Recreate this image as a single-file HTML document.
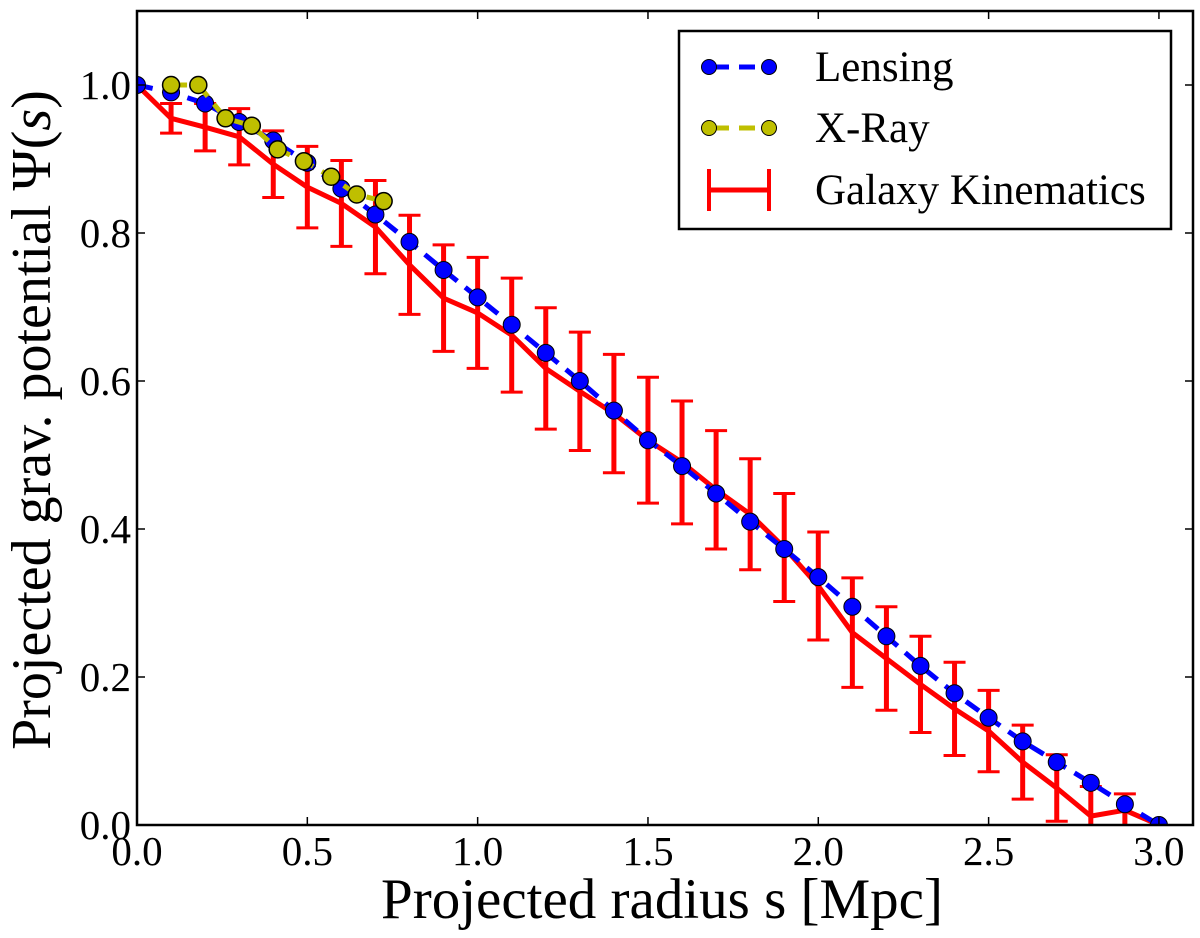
<!DOCTYPE html>
<html><head><meta charset="utf-8"><style>
body{margin:0;background:#fff}
svg text{font-family:"Liberation Serif",serif;fill:#000}
</style></head><body>
<svg id="chart" width="1200" height="933" xmlns="http://www.w3.org/2000/svg">
<defs><clipPath id="clip"><rect x="137" y="11" width="1056" height="814"/></clipPath></defs>
<g id="plot" clip-path="url(#clip)"></g>
</svg>
<script>
const lensX=[0,0.1,0.2,0.3,0.4,0.5,0.6,0.7,0.8,0.9,1.0,1.1,1.2,1.3,1.4,1.5,1.6,1.7,1.8,1.9,2.0,2.1,2.2,2.3,2.4,2.5,2.6,2.7,2.8,2.9,3.0];
const lensY=[1.0,0.99,0.975,0.95,0.925,0.895,0.86,0.825,0.788,0.75,0.713,0.676,0.638,0.6,0.56,0.52,0.485,0.448,0.41,0.373,0.335,0.295,0.255,0.215,0.178,0.145,0.113,0.085,0.057,0.028,0.0];
const xrayX=[0.1,0.18,0.26,0.337,0.413,0.49,0.57,0.645,0.724];
const xrayY=[1.0,1.0,0.955,0.945,0.913,0.897,0.876,0.852,0.843];
const galX=[0,0.1,0.2,0.3,0.4,0.5,0.6,0.7,0.8,0.9,1.0,1.1,1.2,1.3,1.4,1.5,1.6,1.7,1.8,1.9,2.0,2.1,2.2,2.3,2.4,2.5,2.6,2.7,2.8,2.9,3.0];
const galY=[1.0,0.955,0.943,0.93,0.893,0.862,0.84,0.808,0.757,0.712,0.692,0.662,0.617,0.586,0.556,0.52,0.49,0.453,0.42,0.375,0.323,0.26,0.225,0.19,0.157,0.127,0.085,0.05,0.012,0.02,0.0];
const galErr=[0,0.02,0.032,0.038,0.045,0.055,0.058,0.063,0.067,0.072,0.075,0.077,0.082,0.08,0.08,0.085,0.083,0.08,0.075,0.073,0.073,0.074,0.07,0.065,0.063,0.055,0.05,0.045,0.04,0.022,0];
const xTicks=[0,0.5,1.0,1.5,2.0,2.5,3.0];
const xTickLabels=["0.0","0.5","1.0","1.5","2.0","2.5","3.0"];
const yTicks=[0,0.2,0.4,0.6,0.8,1.0];
const yTickLabels=["0.0","0.2","0.4","0.6","0.8","1.0"];

const L=137,R=1193,T=11,B=825,xmax=3.1,ymax=1.1;
const sx=v=>L+v/xmax*(R-L), sy=v=>B-v/ymax*(B-T);
const NS="http://www.w3.org/2000/svg", svg=document.getElementById('chart'), plot=document.getElementById('plot');
function mk(tag,attrs,parent){const e=document.createElementNS(NS,tag);for(const k in attrs)e.setAttribute(k,attrs[k]);(parent||svg).appendChild(e);return e;}

galX.forEach((x,i)=>{if(galErr[i]<=0)return;
 const g=mk('g',{},plot);
 
 
 const X=sx(x),y1=sy(galY[i]+galErr[i]),y2=sy(galY[i]-galErr[i]);
 mk('line',{x1:X,x2:X,y1:y1,y2:y2,stroke:'#f00','stroke-width':5},g);
 mk('line',{x1:X-11,x2:X+11,y1:y1,y2:y1,stroke:'#f00','stroke-width':3},g);
 mk('line',{x1:X-11,x2:X+11,y1:y2,y2:y2,stroke:'#f00','stroke-width':3},g);
});
let gl=mk('polyline',{points:galX.map((x,i)=>sx(x)+','+sy(galY[i])).join(' '),fill:'none',stroke:'#f00','stroke-width':5,'stroke-linejoin':'round'},plot);



let ll=mk('polyline',{points:lensX.map((x,i)=>sx(x)+','+sy(lensY[i])).join(' '),fill:'none',stroke:'#00f','stroke-width':5,'stroke-dasharray':'16,10'},plot);


lensX.forEach((x,i)=>{const c=mk('circle',{cx:sx(x),cy:sy(lensY[i]),r:8.5,fill:'#00f',stroke:'#000','stroke-width':1},plot);
 
 });

let xl=mk('polyline',{points:xrayX.map((x,i)=>sx(x)+','+sy(xrayY[i])).join(' '),fill:'none',stroke:'#bfbf00','stroke-width':5,'stroke-dasharray':'16,10'},plot);


xrayX.forEach((x,i)=>{const c=mk('circle',{cx:sx(x),cy:sy(xrayY[i]),r:8.5,fill:'#bfbf00',stroke:'#000','stroke-width':1.5},plot);
 
 });

let fr=mk('rect',{x:L,y:T,width:R-L,height:B-T,fill:'none',stroke:'#000','stroke-width':2.5});



xTicks.forEach((v,i)=>{const X=sx(v);
 mk('line',{x1:X,x2:X,y1:B,y2:B-8,stroke:'#000','stroke-width':1.5});
 mk('line',{x1:X,x2:X,y1:T,y2:T+8,stroke:'#000','stroke-width':1.5});
 const t=mk('text',{x:X,y:B+40,'text-anchor':'middle','font-size':41});t.textContent=xTickLabels[i];
 
 });
yTicks.forEach((v,i)=>{const Y=sy(v);
 mk('line',{x1:L,x2:L+8,y1:Y,y2:Y,stroke:'#000','stroke-width':1.5});
 mk('line',{x1:R,x2:R-8,y1:Y,y2:Y,stroke:'#000','stroke-width':1.5});
 const t=mk('text',{x:L-6,y:Y+14,'text-anchor':'end','font-size':41});t.textContent=yTickLabels[i];
 
 });

let xt=mk('text',{x:662,y:918,'text-anchor':'middle','font-size':57});xt.textContent='Projected radius s [Mpc]';


let yt=mk('text',{x:0,y:0,'text-anchor':'middle','font-size':56,transform:'translate(50,420) rotate(-90)'});
yt.innerHTML='Projected grav. potential Ψ(<tspan font-style="italic">s</tspan>)';



const lg=mk('g',{});


mk('rect',{x:679,y:31,width:492,height:198,fill:'#fff',stroke:'#000','stroke-width':2.5},lg);
function entry(y,label,col,kind,name){const g=mk('g',{},lg);
 
 
 if(kind==='err'){mk('line',{x1:709,x2:769,y1:y,y2:y,stroke:col,'stroke-width':5},g);
  [709,769].forEach(X=>mk('line',{x1:X,x2:X,y1:y-21,y2:y+21,stroke:col,'stroke-width':4},g));}
 else{mk('line',{x1:709,x2:769,y1:y,y2:y,stroke:col,'stroke-width':5,'stroke-dasharray':'16,10','stroke-dashoffset':-4},g);
  [709,769].forEach(X=>mk('circle',{cx:X,cy:y,r:7.5,fill:col,stroke:'#000','stroke-width':1},g));}
 const t=mk('text',{x:815,y:y+14,'font-size':43},g);t.textContent=label;}
entry(67,'Lensing','#00f','line','legend-entry-lensing');
entry(128,'X-Ray','#bfbf00','line','legend-entry-xray');
entry(190,'Galaxy Kinematics','#f00','err','legend-entry-galaxy-kinematics');
</script>
</body></html>
